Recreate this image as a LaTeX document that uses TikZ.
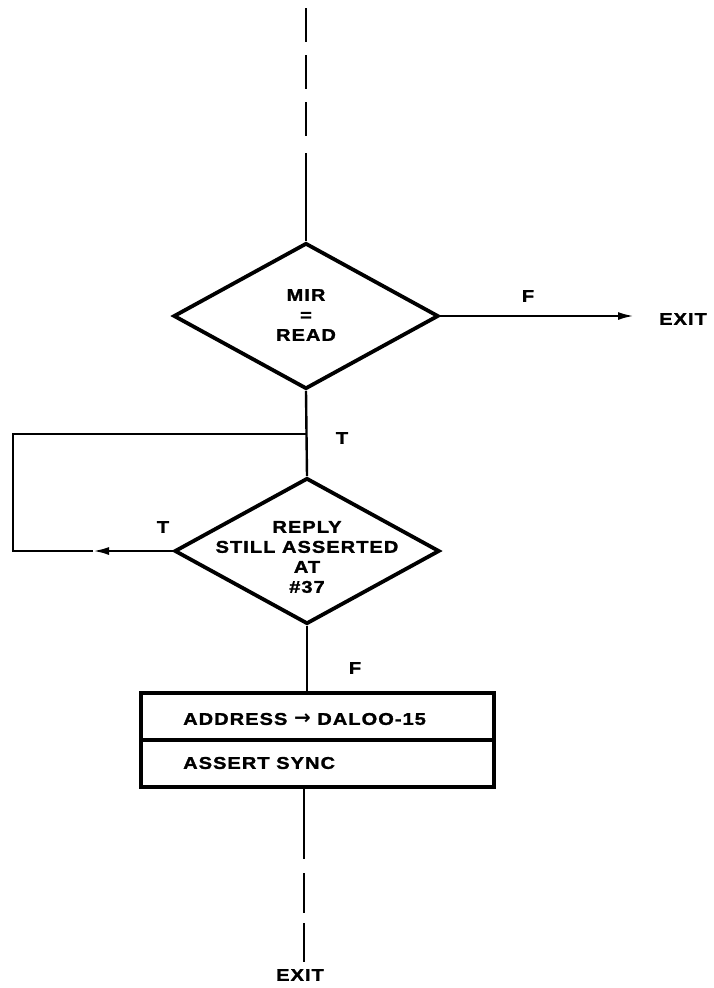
\documentclass[tikz,border=0pt]{standalone}
\usepackage{fontspec}
\newfontfamily\lbl{Liberation Sans}[FakeStretch=1.18,LetterSpace=6,FakeBold=1.5]
\newfontfamily\arrowfont{DejaVu Sans}
\usetikzlibrary{shapes.geometric,arrows.meta}
\tikzset{
  dia/.style={draw, line width=3.8pt, shape=diamond, minimum width=265pt, minimum height=146pt, inner sep=0pt},
  txt/.style={font=\lbl\bfseries\fontsize{17}{20}\selectfont, align=center, inner sep=0pt},
  boxrow/.style={draw, line width=3.8pt, minimum width=353pt, minimum height=47pt, inner sep=0pt},
  conn/.style={line width=2.4pt},
  tip/.style={-{Latex[length=16pt,width=8pt]}}
}
\begin{document}
\begin{tikzpicture}[x=1pt,y=-1pt]
\useasboundingbox (0,0) rectangle (713,988);
% shapes
\node[dia] (d1) at (306,316) {};
\node[txt] (t1) at (306,315) {MIR\\=\\READ};
\node[dia] (d2) at (307,551) {};
\node[txt] (t2) at (307,557) {REPLY\\STILL ASSERTED\\AT\\\#37};
\node[boxrow] (b1) at (317.5,716.5) {};
\node[boxrow] (b2) at (317.5,763.5) {};
\node[txt, anchor=west] (bt1) at (183,719) {ADDRESS {\arrowfont\fontsize{20}{20}\selectfont →} DALOO-15};
\node[txt, anchor=west] (bt2) at (183,763) {ASSERT SYNC};
% labels
\node[txt] (exit1) at (683,319) {EXIT};
\node[txt] (exit2) at (300,975) {EXIT};
\node[txt] (f1) at (528,296) {F};
\node[txt] (f2) at (355,668) {F};
\node[txt] (tr) at (342,438) {T};
\node[txt] (tl) at (163,527) {T};
% coordinates
\coordinate (top) at (306,8);
\coordinate (topb) at (306,140);
\coordinate (topc) at (306,153);
\coordinate (xend) at (634,316);
\coordinate (j) at (306,434);
\coordinate (ltl) at (13,434);
\coordinate (lbl) at (13,551);
\coordinate (la) at (93,551);
\coordinate (lowA) at (304,859);
\coordinate (lowB) at (304,873);
\coordinate (lowC) at (304,962);
% connectors
\draw[conn, line width=2.8pt, dash pattern=on 34pt off 13pt] (top) -- (topb);
\draw[conn] (topc) -- (d1.north);
\draw[conn, tip] (d1.east) -- (xend);
\draw[conn] (d1.south) -- (d2.north);
\draw[conn, tip] (d2.west) -- (la);
\draw[conn] (la) -- (lbl) -- (ltl) -- (j);
\draw[conn] (d2.south) -- (d2.south |- b1.north);
\draw[conn] (b2.south -| lowA) -- (lowA);
\draw[conn, dash pattern=on 40pt off 10pt] (lowB) -- (lowC);
\end{tikzpicture}
\end{document}
